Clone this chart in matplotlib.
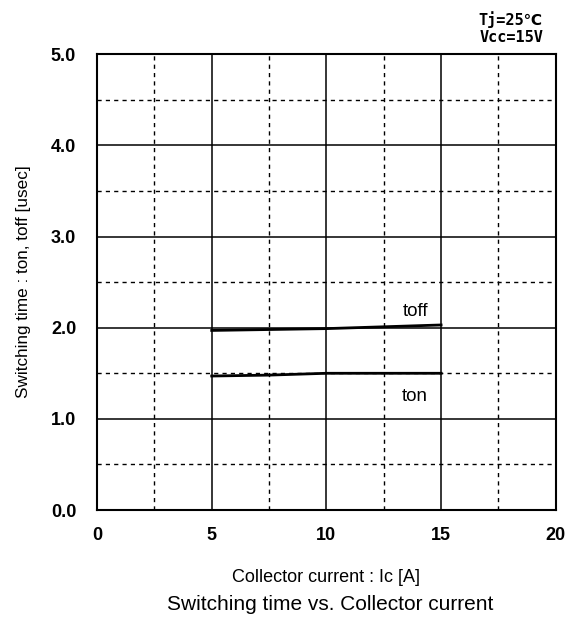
import matplotlib
matplotlib.use("Agg")
import matplotlib.pyplot as plt
import numpy as np

# Switching characteristics, Tj=25°C, Vcc=15V
ic = [5, 7.5, 10, 12.5, 15]
toff = [1.97, 1.98, 1.99, 2.01, 2.03]
ton = [1.47, 1.48, 1.50, 1.50, 1.50]

x_major = [0, 5, 10, 15, 20]
y_major = [0.0, 1.0, 2.0, 3.0, 4.0, 5.0]

plt.rcParams['font.family'] = ['Liberation Sans', 'DejaVu Sans']

fig = plt.figure(figsize=(5.65, 6.21), dpi=100)
ax = fig.add_axes([0.1717, 0.1787, 0.812, 0.734])

ax.set_xlim(0, 20)
ax.set_ylim(0, 5)
ax.set_xticks(x_major)
ax.set_yticks(y_major)
ax.set_xticks(np.arange(0, 20.1, 2.5), minor=True)
ax.set_yticks(np.arange(0, 5.01, 0.5), minor=True)
ax.set_xticklabels([str(v) for v in x_major], fontsize=13, fontweight='bold')
ax.set_yticklabels([f"{v:.1f}" for v in y_major], fontsize=13, fontweight='bold')
ax.tick_params(which='both', length=0)
ax.tick_params(axis='x', pad=12)
ax.tick_params(axis='y', pad=15)

ax.grid(which='major', color='black', linewidth=1.1, linestyle='-')
ax.grid(which='minor', color='black', linewidth=1.0, linestyle=(0, (3, 3)))
for s in ax.spines.values():
    s.set_linewidth(1.5)
    s.set_color('black')

ax.plot(ic, toff, color='black', linewidth=2.0)
ax.plot(ic, ton, color='black', linewidth=2.0)

ax.text(13.33, 2.13, 'toff', fontsize=13.5)
ax.text(13.3, 1.20, 'ton', fontsize=13.5)

ax.set_xlabel('Collector current : Ic [A]', fontsize=13, labelpad=18)
ax.set_ylabel('Switching time : ton, toff [usec]', fontsize=12.3, labelpad=14)

fig.text(0.961, 0.968, 'Tj=25℃', ha='right', va='center', fontsize=11,
         family=['DejaVu Sans Mono', 'DejaVu Sans'], fontweight='bold')
fig.text(0.961, 0.940, 'Vcc=15V', ha='right', va='center', fontsize=11,
         family=['DejaVu Sans Mono', 'DejaVu Sans'], fontweight='bold')

fig.text(0.584, 0.027, 'Switching time vs. Collector current', ha='center',
         va='center', fontsize=15)

fig.savefig('out.png', dpi=100)
